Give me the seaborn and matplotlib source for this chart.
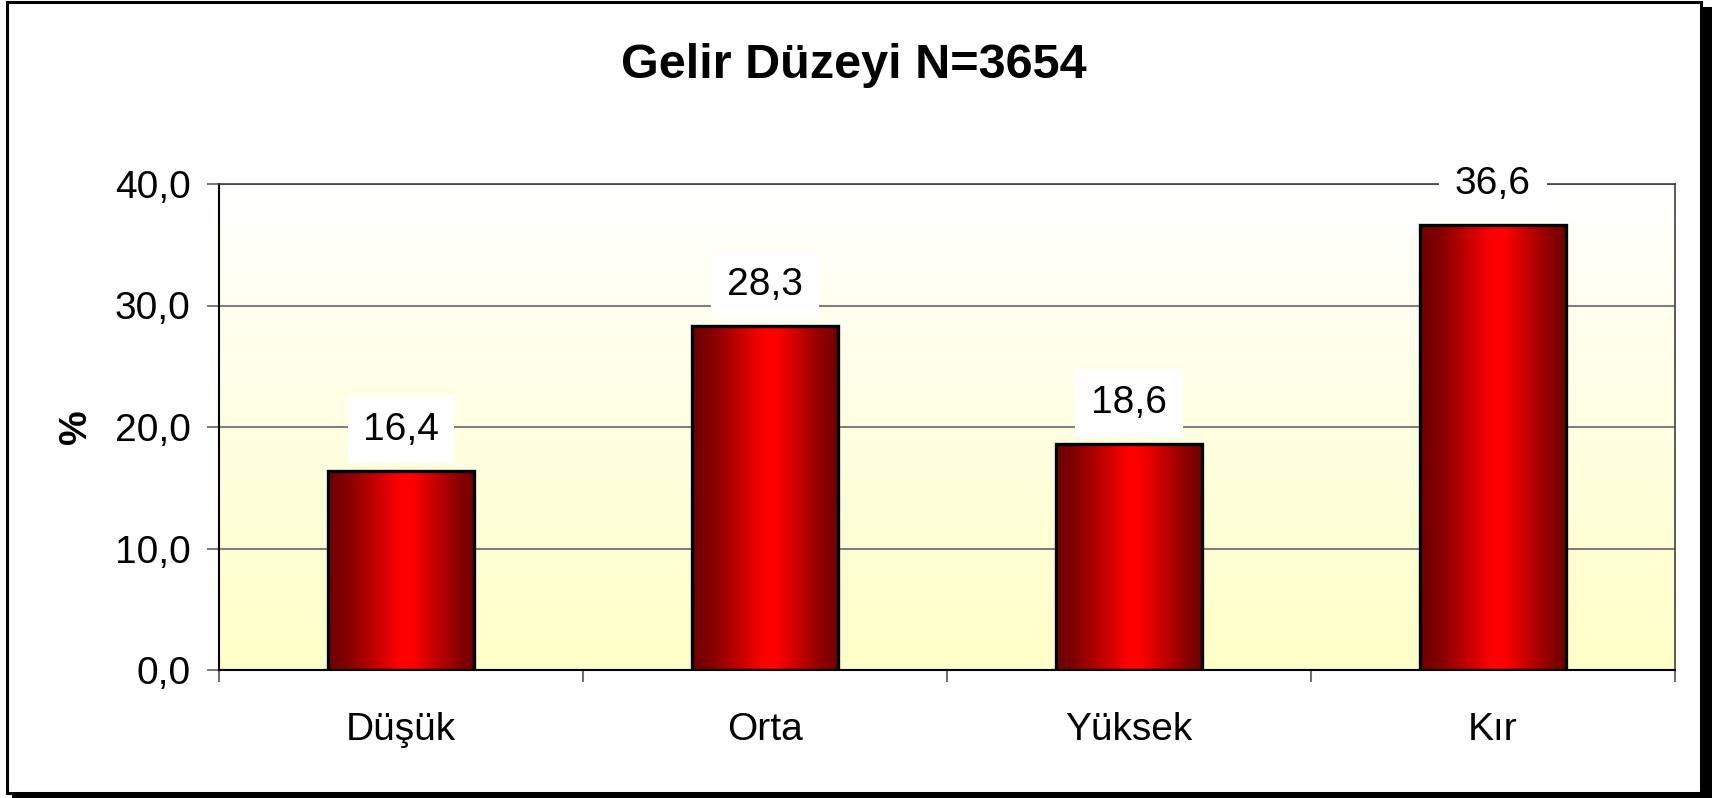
import numpy as np
import pandas as pd
import matplotlib.pyplot as plt
import matplotlib.patches as mpatches
from matplotlib.colors import LinearSegmentedColormap
import seaborn as sns

# data
categories = ["Düşük", "Orta", "Yüksek", "Kır"]
values = [16.4, 28.3, 18.6, 36.6]
value_labels = ["16,4", "28,3", "18,6", "36,6"]
y_ticks = [0, 10, 20, 30, 40]
y_tick_labels = ["0,0", "10,0", "20,0", "30,0", "40,0"]
title = "Gelir Düzeyi N=3654"

df = pd.DataFrame({"Gelir": categories, "Yuzde": values})

sns.set_style("white")
plt.rcParams["font.family"] = ["Liberation Sans", "DejaVu Sans"]
plt.rcParams["text.color"] = "black"
plt.rcParams["axes.labelcolor"] = "black"
plt.rcParams["xtick.labelcolor"] = "black"
plt.rcParams["ytick.labelcolor"] = "black"

W, H = 1717, 798
fig = plt.figure(figsize=(W / 100, H / 100), dpi=100)

# outer frame with shadow
px = lambda x, y: (x / W, y / H)
shadow = mpatches.Rectangle(px(12, 0), 1700 / W, 791 / H, transform=fig.transFigure,
                            facecolor="black", edgecolor="none", zorder=0)
frame = mpatches.Rectangle(px(6.5, 5), 1694 / W, 791.5 / H, transform=fig.transFigure,
                           facecolor="white", edgecolor="black", linewidth=2.2, zorder=1)
fig.patches.extend([shadow, frame])

ax = fig.add_axes([219 / W, (H - 670) / H, 1456 / W, 486 / H])
ax.set_zorder(2)

sns.barplot(data=df, x="Gelir", y="Yuzde", ax=ax, width=0.4, color="red",
            edgecolor="black", linewidth=2.4, zorder=3)

ax.set_xlim(-0.5, 3.5)
ax.set_ylim(0, 40)

# plot area background: white at top fading to pale yellow
bg = np.linspace(0, 1, 256).reshape(-1, 1)
bg_cmap = LinearSegmentedColormap.from_list("bg", [(0, "#FFFFC8"), (0.35, "#FFFFDA"), (1, "#FFFFFF")])
ax.imshow(bg, cmap=bg_cmap, aspect="auto", extent=[0, 1, 0, 1],
          transform=ax.transAxes, origin="lower", zorder=0)

# horizontal red gradient inside each bar
bar_cmap = LinearSegmentedColormap.from_list(
    "bar", [(0.0, "#700000"), (0.12, "#800000"), (0.5, "#FF0000"),
            (0.58, "#FF0000"), (0.9, "#8A0000"), (1.0, "#700000")])
grad = np.linspace(0, 1, 256).reshape(1, -1)
for patch in ax.patches:
    x0, y0 = patch.get_x(), patch.get_y()
    w, h = patch.get_width(), patch.get_height()
    im = ax.imshow(grad, cmap=bar_cmap, aspect="auto",
                   extent=[x0, x0 + w, y0, y0 + h], zorder=3)
    im.set_clip_path(patch)
    patch.set_facecolor("none")
    patch.set_zorder(4)
ax.set_xlim(-0.5, 3.5)
ax.set_ylim(0, 40)

# data labels on white boxes
for i, (v, lab) in enumerate(zip(values, value_labels)):
    ax.annotate(lab, (i, v), xytext=(0, 29.5), textcoords="offset points",
                ha="center", va="center", fontsize=28, color="black", zorder=6,
                bbox=dict(boxstyle="square,pad=0.4", facecolor="white", edgecolor="none"),
                annotation_clip=False)

# grid and axes
ax.set_yticks(y_ticks)
ax.set_yticklabels(y_tick_labels, fontsize=28)
ax.yaxis.grid(True, color="#808080", linewidth=1.5, zorder=1)
ax.set_axisbelow(True)
ax.tick_params(axis="y", length=8.6, width=1.2, color="#606060", pad=12, left=True)

ax.set_xticks(range(len(categories)))
ax.set_xticklabels(categories, fontsize=28)
ax.set_xticks(np.arange(-0.5, 4, 1), minor=True)
ax.tick_params(axis="x", which="major", length=0, pad=30)
ax.tick_params(axis="x", which="minor", length=8.6, width=1.5, color="#707070", bottom=True)

for s in ["left", "bottom"]:
    ax.spines[s].set_color("black")
    ax.spines[s].set_linewidth(1.5)
for s in ["top", "right"]:
    ax.spines[s].set_color("#404040")
    ax.spines[s].set_linewidth(1.2)

ax.set_xlabel("")
ax.set_ylabel("%", fontsize=28, fontweight="bold", color="black")
ax.yaxis.set_label_coords(-0.086, 0.5)

fig.text(854 / W, (H - 78) / H, title, ha="center", va="baseline",
         fontsize=35, fontweight="bold", color="black")

fig.savefig("out.png", dpi=100)
